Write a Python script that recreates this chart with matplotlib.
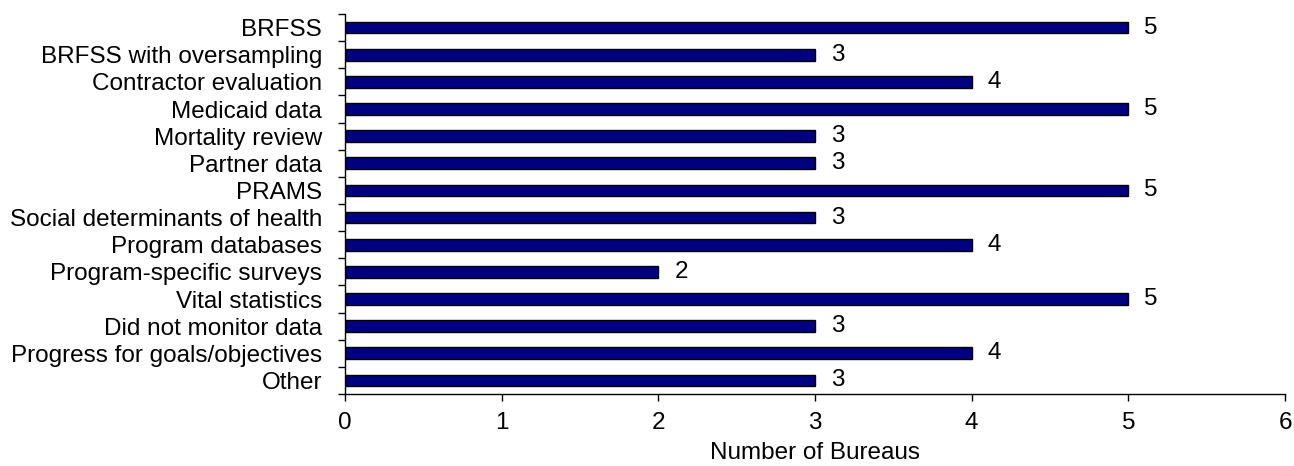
import numpy as np
import matplotlib
matplotlib.use("Agg")
import matplotlib.pyplot as plt
from matplotlib.ticker import FixedLocator

categories = [
    "BRFSS",
    "BRFSS with oversampling",
    "Contractor evaluation",
    "Medicaid data",
    "Mortality review",
    "Partner data",
    "PRAMS",
    "Social determinants of health",
    "Program databases",
    "Program-specific surveys",
    "Vital statistics",
    "Did not monitor data",
    "Progress for goals/objectives",
    "Other",
]
bureaus = [5, 3, 4, 5, 3, 3, 5, 3, 4, 2, 5, 3, 4, 3]
x_ticks = [0, 1, 2, 3, 4, 5, 6]

plt.rcParams["font.family"] = ["Liberation Sans", "DejaVu Sans"]
FS = 17.5

fig = plt.figure(figsize=(12.94, 4.66), dpi=100)
ax = fig.add_axes([345 / 1294, 1 - 394 / 466, (1285 - 345) / 1294, (394 - 14) / 466])

n = len(categories)
y = np.arange(n)
ax.barh(y, bureaus, height=0.43, color="#000080", edgecolor="black", linewidth=1.0)

for yi, v in zip(y, bureaus):
    ax.annotate(str(v), xy=(v, yi), xytext=(11.5, 0), textcoords="offset points",
                va="center", ha="left", fontsize=FS)

ax.set_ylim(n - 0.5, -0.5)
ax.set_xlim(0, 6)
ax.set_xticks(x_ticks)
ax.set_xticklabels([str(t) for t in x_ticks], fontsize=FS)
ax.set_yticks(y)
ax.set_yticklabels(categories, fontsize=FS)
ax.tick_params(axis="y", which="major", length=0, pad=16.5)
ax.yaxis.set_minor_locator(FixedLocator(np.arange(-0.5, n, 1.0)))
ax.tick_params(axis="y", which="minor", length=5, width=1, color="black", direction="out")
ax.tick_params(axis="x", which="major", length=5, width=1, direction="out", pad=8)
ax.set_xlabel("Number of Bureaus", fontsize=FS, labelpad=6)

for side in ("top", "right"):
    ax.spines[side].set_visible(False)
for side in ("left", "bottom"):
    ax.spines[side].set_color("black")
    ax.spines[side].set_linewidth(1.0)

fig.savefig("out.png", dpi=100)
